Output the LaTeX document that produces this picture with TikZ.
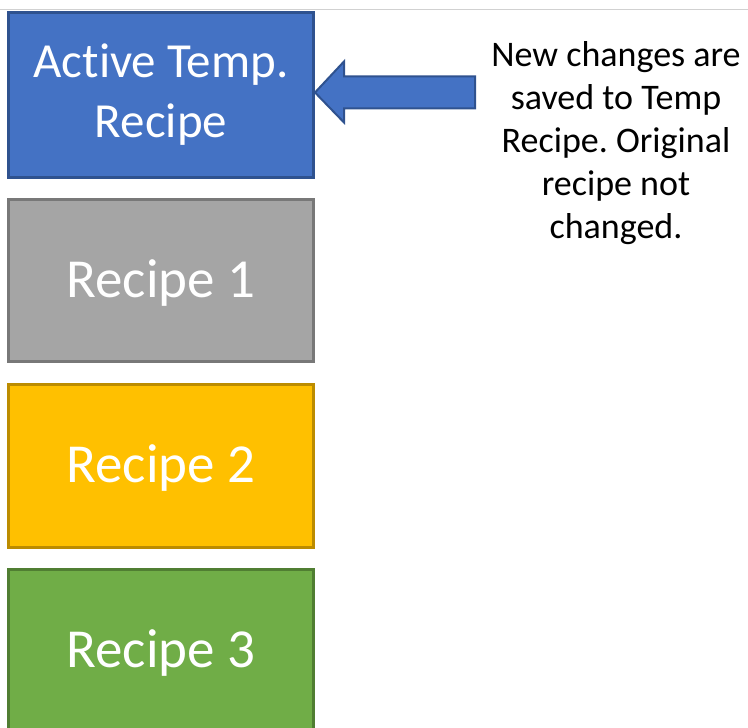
\documentclass[tikz,border=0pt]{standalone}
\usepackage{fontspec}
\setmainfont{Carlito}[Ligatures={NoCommon}]
\frenchspacing
\definecolor{tempblue}{HTML}{4472C4}
\definecolor{tempblueline}{HTML}{2F528F}
\definecolor{recgray}{HTML}{A5A5A5}
\definecolor{recgrayline}{HTML}{787878}
\definecolor{recyellow}{HTML}{FFC000}
\definecolor{recyellowline}{HTML}{BC8C00}
\definecolor{recgreen}{HTML}{70AD47}
\definecolor{recgreenline}{HTML}{507E32}

\begin{document}
\begin{tikzpicture}[x=0.5pt,y=-0.5pt,
  recipe/.style={draw, line width=1.5pt, minimum width=152.5pt, inner sep=0pt, text=white, font=\fontsize{27.5}{30}\selectfont, align=center},
  onerow/.style={text height=20pt, text depth=3.5pt}]
\useasboundingbox (0,0) rectangle (748,727);
\draw[line width=0.75pt, black!18] (0,9.5)--(748,9.5);
\node[recipe, fill=tempblue, draw=tempblueline, minimum height=82.5pt, font=\fontsize{24.5}{30}\selectfont] (active) at (161,95) {Active Temp.\\Recipe};
\node[recipe, onerow, fill=recgray, draw=recgrayline, minimum height=81pt] (rec1) at (161,280.5) {Recipe 1};
\node[recipe, onerow, fill=recyellow, draw=recyellowline, minimum height=81.5pt] (rec2) at (161,466) {Recipe 2};
\node[recipe, onerow, fill=recgreen, draw=recgreenline, minimum height=81.5pt] (rec3) at (161,651) {Recipe 3};
\node[font=\fontsize{18}{21.6}\selectfont, align=center] (note) at (616,143) {New changes are\\saved to Temp\\Recipe. Original\\recipe not\\changed.};
% block arrow into the temp recipe
\draw[fill=tempblue, draw=tempblueline, line width=1pt, line join=miter] ([yshift=1.25pt]active.east) -- ++(29,-31) -- ++(0,15) -- ++(131,0) -- ++(0,32) -- ++(-131,0) -- ++(0,14) -- cycle;
\end{tikzpicture}
\end{document}
